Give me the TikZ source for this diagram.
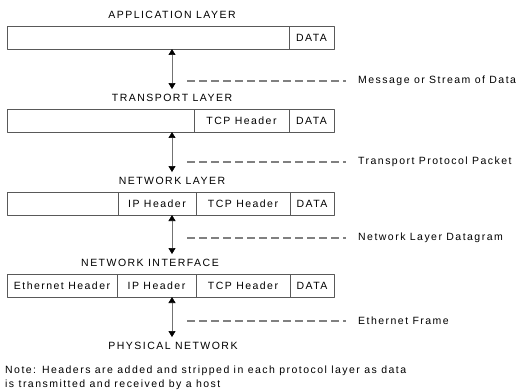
\documentclass[tikz,border=0pt]{standalone}
\usepackage{fontspec}
\setmainfont{Liberation Sans}[LetterSpace=14]
\usetikzlibrary{arrows.meta,calc}
\begin{document}
\begin{tikzpicture}[x=1pt, y=-1pt, font=\fontsize{10.5}{14}\selectfont, line join=round,
    >={Triangle[length=6pt,width=7pt,color=black]},
    field/.style={draw=black!65, line width=0.9pt, minimum height=23pt, inner sep=0pt, outer sep=0pt},
    layer/.style={inner sep=0pt, text height=7.5pt, text depth=0pt},
    tag/.style={anchor=west, inner sep=0pt},
    updown/.style={<->, black!55, line width=0.6pt, shorten >=5pt},
    leader/.style={black!50, line width=1.1pt, dash pattern=on 8pt off 4pt}]
  \useasboundingbox (0,0) rectangle (516,390);
  % layer names
  \node[layer] (lapp) at (172,15) {APPLICATION LAYER};
  \node[layer] (ltrans) at (172,98) {TRANSPORT LAYER};
  \node[layer] (lnet) at (172,181) {NETWORK LAYER};
  \node[layer] (lnetif) at (150,263) {NETWORK INTERFACE};
  \node[layer] (lphys) at (173,346) {PHYSICAL NETWORK};
  % application
  \node[field, minimum width=282pt] (app0) at (148,37.5) {};
  \node[field, minimum width=45pt] (appdata) at (311.5,37.5) {DATA};
  % transport
  \node[field, minimum width=187pt] (trans0) at (100.5,120.5) {};
  \node[field, minimum width=95pt] (transtcp) at (241.5,120.5) {TCP Header};
  \node[field, minimum width=45pt] (transdata) at (311.5,120.5) {DATA};
  % network
  \node[field, minimum width=111pt] (net0) at (62.5,203.5) {};
  \node[field, minimum width=78pt] (netip) at (157,203.5) {IP Header};
  \node[field, minimum width=94pt] (nettcp) at (243,203.5) {TCP Header};
  \node[field, minimum width=44pt] (netdata) at (312,203.5) {DATA};
  % ethernet
  \node[field, minimum width=110pt] (etheth) at (62,285.5) {Ethernet Header};
  \node[field, minimum width=79pt] (ethip) at (156.5,285.5) {IP Header};
  \node[field, minimum width=94pt] (ethtcp) at (243,285.5) {TCP Header};
  \node[field, minimum width=44pt] (ethdata) at (312,285.5) {DATA};
  % arrows between layers
  \draw[updown] (app0.south -| lapp) -- (ltrans.north);
  \draw[updown] (trans0.south -| lapp) -- (lnet.north);
  \draw[updown] (netip.south -| lapp) -- (lapp |- lnetif.north);
  \draw[updown] (ethip.south -| lapp) -- (lapp |- lphys.north);
  % unit names
  \node[tag] (t1) at (358,81) {Message or Stream of Data};
  \node[tag] (t2) at (358,162) {Transport Protocol Packet};
  \node[tag] (t3) at (358,238) {Network Layer Datagram};
  \node[tag] (t4) at (358,321) {Ethernet Frame};
  \draw[leader] ($(lapp |- t1)+(15,0)$) -- ($(t1.west)+(-12.5,0)$);
  \draw[leader] ($(lapp |- t2)+(15,0)$) -- ($(t2.west)+(-12.5,0)$);
  \draw[leader] ($(lapp |- t3)+(15,0)$) -- ($(t3.west)+(-12.5,0)$);
  \draw[leader] ($(lapp |- t4)+(15,0)$) -- ($(t4.west)+(-12.5,0)$);
  % note
  \node[anchor=north west, inner sep=0pt, align=left] (note) at (5,365.5) {Note: Headers are added and stripped in each protocol layer as data\\is transmitted and received by a host};
\end{tikzpicture}
\end{document}
